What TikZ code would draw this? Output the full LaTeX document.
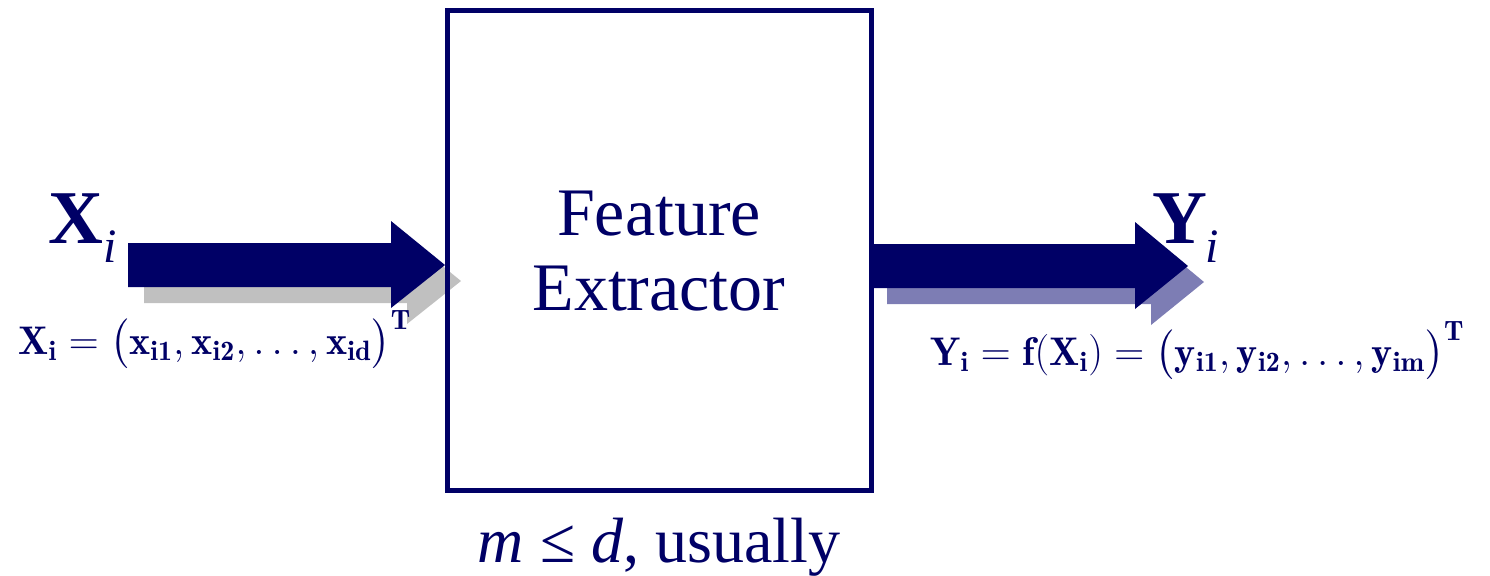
\documentclass[tikz,border=0pt]{standalone}
\usepackage{amsmath}
\usepackage{fontspec}
\newfontfamily\tnr{Liberation Serif}
\definecolor{navy}{RGB}{0,0,102}
\definecolor{shadowgray}{RGB}{192,192,192}
\definecolor{shadowblue}{RGB}{125,125,180}
\tikzset{
  blockarrow/.style={fill=navy},
  graysh/.style={fill=shadowgray},
  bluesh/.style={fill=shadowblue},
  fbox/.style={draw=navy, line width=2.5pt, minimum width=212pt, minimum height=240pt, inner sep=0pt},
  lbl/.style={text=navy, inner sep=0pt},
  bigvar/.style={lbl, anchor=base west, font=\tnr\fontsize{38}{38}\selectfont},
  formula/.style={lbl, anchor=base west, font=\fontsize{20}{20}\selectfont},
}
\begin{document}
\begin{tikzpicture}[x=0.5pt,y=-0.5pt]
\useasboundingbox (0,0) rectangle (1490,575);
% shadows
\fill[graysh] (144,259)--(407,259)--(407,237)--(461,281)--(407,324)--(407,303)--(144,303)--cycle;
\fill[bluesh] (887,260)--(1151,260)--(1151,238)--(1204,282)--(1151,325)--(1151,304)--(887,304)--cycle;
% box
\node[fbox] (fe) at (659,250) {};
\node[lbl, font=\tnr\fontsize{34}{37.5}\selectfont, align=center, anchor=base] (fetext) at (659,310) {Feature\\Extractor};
% arrows
\fill[blockarrow] (128,243)--(391,243)--(391,221)--(445,265)--(391,308)--(391,287)--(128,287)--cycle;
\fill[blockarrow] (fe.east |- 0,244)--(1135,244)--(1135,222)--(1188,266)--(1135,309)--(1135,288)--(fe.east |- 0,288)--cycle;
% labels
\node[bigvar] (xi) at (48,243) {\bfseries X\raisebox{-9.5pt}{\fontsize{24}{24}\selectfont\mdseries\itshape i}};
\node[bigvar] (yi) at (1152,243) {\bfseries Y\kern-1pt\raisebox{-9.5pt}{\fontsize{24}{24}\selectfont\mdseries\itshape i}};
\node[formula] (xform) at (18,354)
  {$\mathbf{X}_{\mathbf{i}}=\bigl(\mathbf{x}_{\mathbf{i1}},\mathbf{x}_{\mathbf{i2}},\ldots,\mathbf{x}_{\mathbf{id}}\bigr)^{\mathbf{T}}$};
\node[formula] (yform) at (930,365)
  {$\mathbf{Y}_{\mathbf{i}}=\mathbf{f}(\mathbf{X}_{\mathbf{i}})=\bigl(\mathbf{y}_{\mathbf{i1}},\mathbf{y}_{\mathbf{i2}},\ldots,\mathbf{y}_{\mathbf{im}}\bigr)^{\mathbf{T}}$};
\node[lbl, anchor=base, font=\tnr\fontsize{32}{32}\selectfont] (note) at (659,562) {\itshape m\/ \upshape ≤ \itshape d\upshape, usually};
\end{tikzpicture}
\end{document}
